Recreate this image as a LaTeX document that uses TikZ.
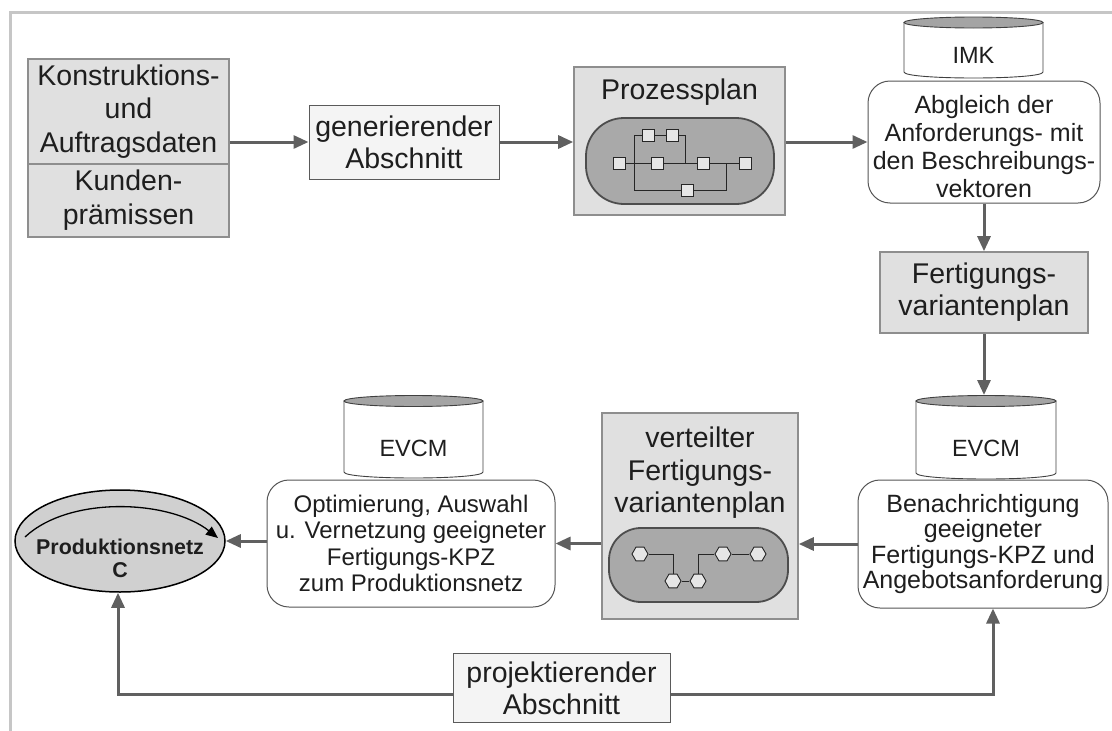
\documentclass[tikz,border=0pt]{standalone}
\usepackage{fontspec}
\setmainfont{Liberation Sans}
\usetikzlibrary{arrows.meta,shapes.geometric}
\definecolor{framegray}{HTML}{C6C6C6}
\definecolor{ink}{HTML}{1E1E1E}
\definecolor{boxfill}{HTML}{E0E0E0}
\definecolor{boxedge}{HTML}{8E8E8E}
\definecolor{lightfill}{HTML}{F4F4F4}
\definecolor{lightedge}{HTML}{5A5A5A}
\definecolor{roundedge}{HTML}{555555}
\definecolor{capfill}{HTML}{A9A9A9}
\definecolor{capedge}{HTML}{4D4D4D}
\definecolor{sqfill}{HTML}{E6E6E6}
\definecolor{arrgray}{HTML}{606060}
\definecolor{cyltopfill}{HTML}{A4A4A4}
\definecolor{netfill}{HTML}{D0D0D0}

% database cylinder: left x, right x, centre of top ellipse, bottom of the sides
\newcommand\dbcyl[4]{%
  \filldraw[draw=black!75, fill=white, line width=0.9pt]
    (#1,#3) -- (#1,#4) .. controls (#1,#4+8) and (#2,#4+8) .. (#2,#4) -- (#2,#3) -- cycle;
  \filldraw[draw=black!75, fill=cyltopfill, line width=0.9pt]
    ({(#1+#2)/2},#3) ellipse [x radius={(#2-#1)/2}, y radius=5.5];
}

\begin{document}
\begin{tikzpicture}[x=1pt,y=-1pt,
  every node/.style={text=ink},
  big/.style={font=\fontsize{28.5}{32}\selectfont},
  graybox/.style={draw=boxedge, fill=boxfill, line width=1.6pt, inner sep=0, align=center, big},
  lightbox/.style={draw=lightedge, fill=lightfill, line width=1pt, inner sep=0, align=center, big},
  roundbox/.style={draw=roundedge, fill=white, line width=1pt, rounded corners=22pt, inner sep=0, align=center},
  capsule/.style={draw=capedge, fill=capfill, line width=1.8pt, inner sep=0},
  sq/.style={draw=black!85, fill=sqfill, line width=0.9pt, minimum size=12pt, inner sep=0},
  hexa/.style={regular polygon, regular polygon sides=6, draw=black!85, fill=sqfill,
    line width=0.9pt, minimum size=16pt, inner sep=0},
  wire/.style={draw=black!85, line width=1pt},
  tip/.tip={Triangle[length=15pt,width=13pt]},
  arr/.style={draw=arrgray, line width=3pt, -tip},
  arrboth/.style={draw=arrgray, line width=3pt, tip-tip},
  cyltext/.style={font=\fontsize{23.5}{26}\selectfont}
]
\useasboundingbox (0,0) rectangle (1112,731);

% outer frame
\draw[framegray, line width=3pt] (10,12) rectangle (1140,760);

% input data
\node[graybox, minimum width=201pt, minimum height=105pt, font=\fontsize{28.5}{33.5}\selectfont]
  (kd) at (128.5,111.5) {Konstruktions-\\und\\Auftragsdaten};
\node[graybox, minimum width=201pt, minimum height=73pt, font=\fontsize{28.5}{34}\selectfont]
  (kp) at (128.5,200.5) {Kunden-\\prämissen};

% generating section
\node[lightbox, minimum width=190pt, minimum height=74pt] (gen) at (404,142)
  {generierender\\Abschnitt};

% process plan
\node[graybox, minimum width=211pt, minimum height=148pt] (pp) at (679.5,141) {};
\node[big] (pptitle) at (679.5,92) {Prozessplan};
\node[capsule, rounded corners=38pt, minimum width=188pt, minimum height=86pt] (cap1) at (680,161) {};
\node[sq] (s1) at (619,163) {};
\node[sq] (s2) at (648,135) {};
\node[sq] (s3) at (672,135) {};
\node[sq] (s4) at (657,163) {};
\node[sq] (s5) at (703,163) {};
\node[sq] (s6) at (745,163) {};
\node[sq] (s7) at (687,190) {};
\coordinate (j1) at (634,163);
\coordinate (j2) at (685,163);
\coordinate (j3) at (726,163);
\draw[wire] (s1) -- (s4);
\draw[wire] (s4) -- (s5);
\draw[wire] (s5) -- (s6);
\draw[wire] (j1) |- (s2);
\draw[wire] (s2) -- (s3);
\draw[wire] (s3) -| (j2);
\draw[wire] (j1) |- (s7);
\draw[wire] (s7) -| (j3);

% IMK matching
\dbcyl{904}{1043}{22.5}{72}
\node[cyltext] (imk) at (973.5,55) {IMK};
\node[roundbox, minimum width=232pt, minimum height=122pt] (abg) at (984,142) {};
\node[align=center, font=\fontsize{25}{28}\selectfont] (abgtxt) at (984,147)
  {Abgleich der\\Anforderungs- mit\\den Beschreibungs-\\vektoren};

% variant plan
\node[graybox, minimum width=208pt, minimum height=81pt] (fvp) at (984,292.5)
  {Fertigungs-\\variantenplan};

% EVCM notification
\dbcyl{916}{1056}{401}{473}
\coordinate (cylR) at (984,395);
\node[cyltext] (evcmR) at (986,448) {EVCM};
\node[roundbox, minimum width=250pt, minimum height=128pt, font=\fontsize{25}{25.5}\selectfont]
  (ben) at (983,544) {Benachrichtigung\\geeigneter\\Fertigungs-KPZ und\\Angebotsanforderung};

% distributed variant plan
\node[graybox, minimum width=196pt, minimum height=206pt] (vfp) at (700,516) {};
\node[big, align=center, font=\fontsize{28.5}{32.5}\selectfont] (vfptitle) at (700,473)
  {verteilter\\Fertigungs-\\variantenplan};
\node[capsule, rounded corners=32pt, minimum width=179pt, minimum height=74pt] (cap2) at (698.5,565) {};
\node[hexa] (h1) at (640,554) {};
\node[hexa] (h2) at (673,581) {};
\node[hexa] (h3) at (698,581) {};
\node[hexa] (h4) at (723,554) {};
\node[hexa] (h5) at (758,554) {};
\draw[wire] (h1) -| (h2);
\draw[wire] (h2) -- (h3);
\draw[wire] (h3) |- (h4);
\draw[wire] (h4) -- (h5);

% EVCM optimisation
\dbcyl{344}{483}{401}{472}
\node[cyltext] (evcmL) at (413.5,448) {EVCM};
\node[roundbox, minimum width=288pt, minimum height=127pt, font=\fontsize{24}{26.5}\selectfont]
  (opt) at (411,543.5) {Optimierung, Auswahl\\u. Vernetzung geeigneter\\Fertigungs-KPZ\\zum Produktionsnetz};

% production network
\node[ellipse, draw=black, fill=netfill, line width=1.5pt, minimum width=210pt, minimum height=102pt,
  inner sep=0] (pn) at (120,541) {};
\draw[black, line width=1.3pt, -{Triangle[length=12pt,width=10pt]}]
  (25,537) .. controls (70,495) and (170,500) .. (218,538);
\node[align=center, font=\bfseries\fontsize{21.4}{23}\selectfont] (pntxt) at (120,558)
  {Produktionsnetz\\C};

% flow connectors
\draw[arr] (kd.east |- gen.west) -- (gen.west);
\draw[arr] (gen.east) -- (gen.east -| pp.west);
\draw[arr] (pp.east |- abg.west) -- (abg.west);
\draw[arr] (abg.south) -- (fvp.north);
\draw[arr] (fvp.south) -- (cylR);
\draw[arr] (ben.west) -- (ben.west -| vfp.east);
\draw[arr] (vfp.west |- opt.east) -- (opt.east);
\draw[arr] (opt.west |- pn.east) -- (pn.east);

% projecting section loop
\coordinate (loopL) at (118,694);
\coordinate (loopR) at (993,694);
\draw[arrboth] (pn.south -| loopL) -- (loopL) -- (loopR) -- (loopR |- ben.south);
\node[lightbox, minimum width=217pt, minimum height=69pt] (proj) at (561.5,688)
  {projektierender\\Abschnitt};
\end{tikzpicture}
\end{document}
